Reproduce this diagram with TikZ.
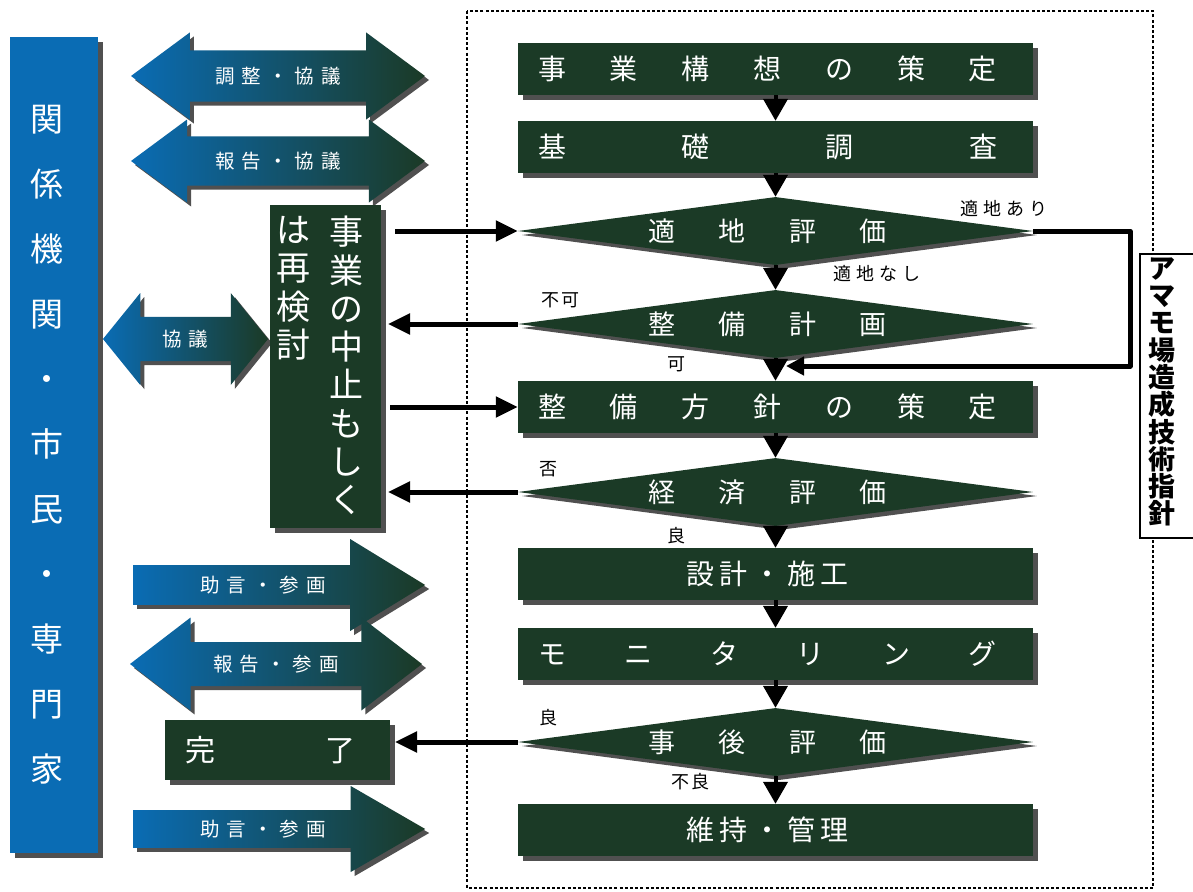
\documentclass[tikz,border=0pt]{standalone}
\usepackage{fontspec}
\setmainfont{Noto Sans CJK JP}
\usetikzlibrary{shapes.geometric,shapes.arrows,shadows,arrows.meta}
\definecolor{boxgreen}{RGB}{27,58,38}
\definecolor{colblue}{RGB}{10,108,180}
\definecolor{shadowc}{RGB}{80,80,80}
\newcommand{\spreadtxt}[2]{\hbox to #1{#2}\kern16pt}
\begin{document}
\begin{tikzpicture}[x=1pt,y=-1pt,
  shadowed/.style={drop shadow={shadow xshift=#1,shadow yshift=-#1,opacity=1,fill=shadowc}},
  shadowed/.default=5pt,
  gbox/.style={fill=boxgreen,text=white,inner sep=0pt,shadowed},
  stepbox/.style={gbox,minimum width=515pt,minimum height=52pt,font=\fontsize{28}{30}\selectfont},
  decision/.style={diamond,fill=boxgreen,text=white,inner sep=0pt,shape aspect=7.5,minimum width=515pt,minimum height=68pt,shadowed=4pt,font=\fontsize{27}{30}\selectfont},
  bandarrow/.style={left color=colblue,right color=boxgreen,text=white,inner xsep=0pt,shadowed=4pt,font=\fontsize{19.5}{21}\selectfont},
  flow/.style={line width=4pt,-{Triangle[width=24pt,length=22pt]}},
  side/.style={line width=5pt,-{Triangle[width=20pt,length=22pt]}},
  lbl/.style={font=\fontsize{18}{20}\selectfont,inner sep=0pt},
  frame/.style={line width=2.8pt,dash pattern=on 3pt off 2.2pt},
  vtext/.style={align=center,inner sep=0pt},
]
\useasboundingbox (0,0) rectangle (1193,891);
\fill[white] (0,0) rectangle (1193,891);

% dotted frame
\draw[frame] (467,11) rectangle (1153,888);

% left column
\node[fill=colblue,minimum width=88pt,minimum height=816pt,inner sep=0pt,shadowed,anchor=north west] (org) at (10,37) {};
\node[vtext,text=white,font=\fontsize{33}{65}\selectfont] (orgtext) at (47,445) {関\\係\\機\\関\\・\\市\\民\\・\\専\\門\\家};

% band arrows
\node[bandarrow,double arrow,inner ysep=13.5pt,minimum height=294pt,minimum width=87pt,double arrow head extend=16pt,double arrow tip angle=73] (a1) at (278,76) {調\hspace{7pt}整\hspace{7pt}・\hspace{7pt}協\hspace{7pt}議};
\node[bandarrow,double arrow,inner ysep=12.5pt,minimum height=294pt,minimum width=83pt,double arrow head extend=15pt,double arrow tip angle=73] (a2) at (278,161) {報\hspace{7pt}告\hspace{7pt}・\hspace{7pt}協\hspace{7pt}議};
\node[bandarrow,double arrow,inner ysep=10.5pt,minimum height=165pt,minimum width=92pt,double arrow head extend=21.5pt,double arrow tip angle=102] (a3) at (185.5,339) {協\hspace{7pt}議};
\node[bandarrow,single arrow,inner ysep=8.5pt,minimum height=292pt,minimum width=92pt,single arrow head extend=23.5pt,single arrow tip angle=63,anchor=tail] (a4) at (133,585) {助\hspace{7pt}言\hspace{7pt}・\hspace{7pt}参\hspace{7pt}画};
\node[bandarrow,double arrow,inner ysep=10.5pt,minimum height=292pt,minimum width=93pt,double arrow head extend=22pt,double arrow tip angle=75] (a5) at (276,664) {報\hspace{7pt}告\hspace{7pt}・\hspace{7pt}参\hspace{7pt}画};
\node[bandarrow,single arrow,inner ysep=7.5pt,minimum height=292pt,minimum width=86pt,single arrow head extend=21.5pt,single arrow tip angle=60,anchor=tail] (a6) at (133,829) {助\hspace{7pt}言\hspace{7pt}・\hspace{7pt}参\hspace{7pt}画};

% stop / reconsider box
\node[gbox,minimum width=111pt,minimum height=323pt,anchor=north west] (stop) at (270,205) {};
\node[vtext,text=white,font=\fontsize{34}{38.3}\selectfont,anchor=north] (stopa) at (346,216) {事\\業\\の\\中\\止\\も\\し\\く};
\node[vtext,text=white,font=\fontsize{34}{38.3}\selectfont,anchor=north] (stopb) at (293,216) {は\\再\\検\\討};

% done box
\node[gbox,minimum width=225pt,minimum height=60pt,font=\fontsize{30}{32}\selectfont] (done) at (277.5,750) {\hbox to 170pt{完\hfill 了}\kern15pt};

% main flow
\node[stepbox] (s1) at (775.5,69) {\spreadtxt{459pt}{事\hfill 業\hfill 構\hfill 想\hfill の\hfill 策\hfill 定}};
\node[stepbox] (s2) at (775.5,147) {\spreadtxt{459pt}{基\hfill 礎\hfill 調\hfill 査}};
\node[decision] (d1) at (775.5,231) {\spreadtxt{239pt}{適\hfill 地\hfill 評\hfill 価}};
\node[decision] (d2) at (775.5,324) {\spreadtxt{239pt}{整\hfill 備\hfill 計\hfill 画}};
\node[stepbox] (s3) at (775.5,407) {\spreadtxt{459pt}{整\hfill 備\hfill 方\hfill 針\hfill の\hfill 策\hfill 定}};
\node[decision] (d3) at (775.5,492) {\spreadtxt{239pt}{経\hfill 済\hfill 評\hfill 価}};
\node[stepbox] (s4) at (775.5,574) {\spreadtxt{163pt}{設\hfill 計\hfill ・\hfill 施\hfill 工}};
\node[stepbox] (s5) at (775.5,654) {\spreadtxt{459pt}{モ\hfill ニ\hfill タ\hfill リ\hfill ン\hfill グ}};
\node[decision] (d4) at (775.5,742) {\spreadtxt{239pt}{事\hfill 後\hfill 評\hfill 価}};
\node[stepbox] (s6) at (775.5,830) {\spreadtxt{163pt}{維\hfill 持\hfill ・\hfill 管\hfill 理}};

% guideline box
\node[draw=black,fill=white,line width=1.5pt,minimum width=62pt,minimum height=284pt,inner sep=0pt,anchor=north west] (guide) at (1139,253) {};
\node[vtext,font=\fontsize{27}{27.3}\selectfont\bfseries] (guidetext) at (1162,392) {ア\\マ\\モ\\場\\造\\成\\技\\術\\指\\針};

% down arrows
\draw[flow] (s1.south) -- (s2.north);
\draw[flow] (s2.south) -- (d1.north);
\draw[flow] (d1.south) -- (d2.north);
\draw[flow] (d2.south) -- (s3.north);
\draw[flow] (s3.south) -- (d3.north);
\draw[flow] (d3.south) -- (s4.north);
\draw[flow] (s4.south) -- (s5.north);
\draw[flow] (s5.south) -- (d4.north);
\draw[flow] (d4.south) -- (s6.north);

% side arrows
\coordinate (in1) at (395,231);
\coordinate (in2) at (390,407);
\coordinate (out1) at (388,324);
\coordinate (out2) at (388,492);
\coordinate (out3) at (395,742);
\draw[side] (in1) -- (d1.west);
\draw[side] (in2) -- (s3.west);
\draw[side] (d2.west) -- (out1);
\draw[side] (d3.west) -- (out2);
\draw[side] (d4.west) -- (out3);

% loop for suitable site
\coordinate (loopin) at (786,366);
\draw[line width=5pt,line join=round,-{Triangle[width=18pt,length=18pt]}] (d1.east) -| (1130,366) -- (loopin);

% labels
\node[lbl] (lari) at (1004,209) {適\hspace{5pt}地\hspace{5pt}あ\hspace{5pt}り};
\node[lbl] (lnashi) at (877,274) {適\hspace{5pt}地\hspace{5pt}な\hspace{5pt}し};
\node[lbl] (lfuka) at (560,300) {不\hspace{2pt}可};
\node[lbl] (lka) at (676,364) {可};
\node[lbl] (lhi) at (548,469) {否};
\node[lbl] (lryo1) at (676,536) {良};
\node[lbl] (lryo2) at (548,718) {良};
\node[lbl] (lfuryo) at (690,782) {不\hspace{2pt}良};
\end{tikzpicture}
\end{document}
